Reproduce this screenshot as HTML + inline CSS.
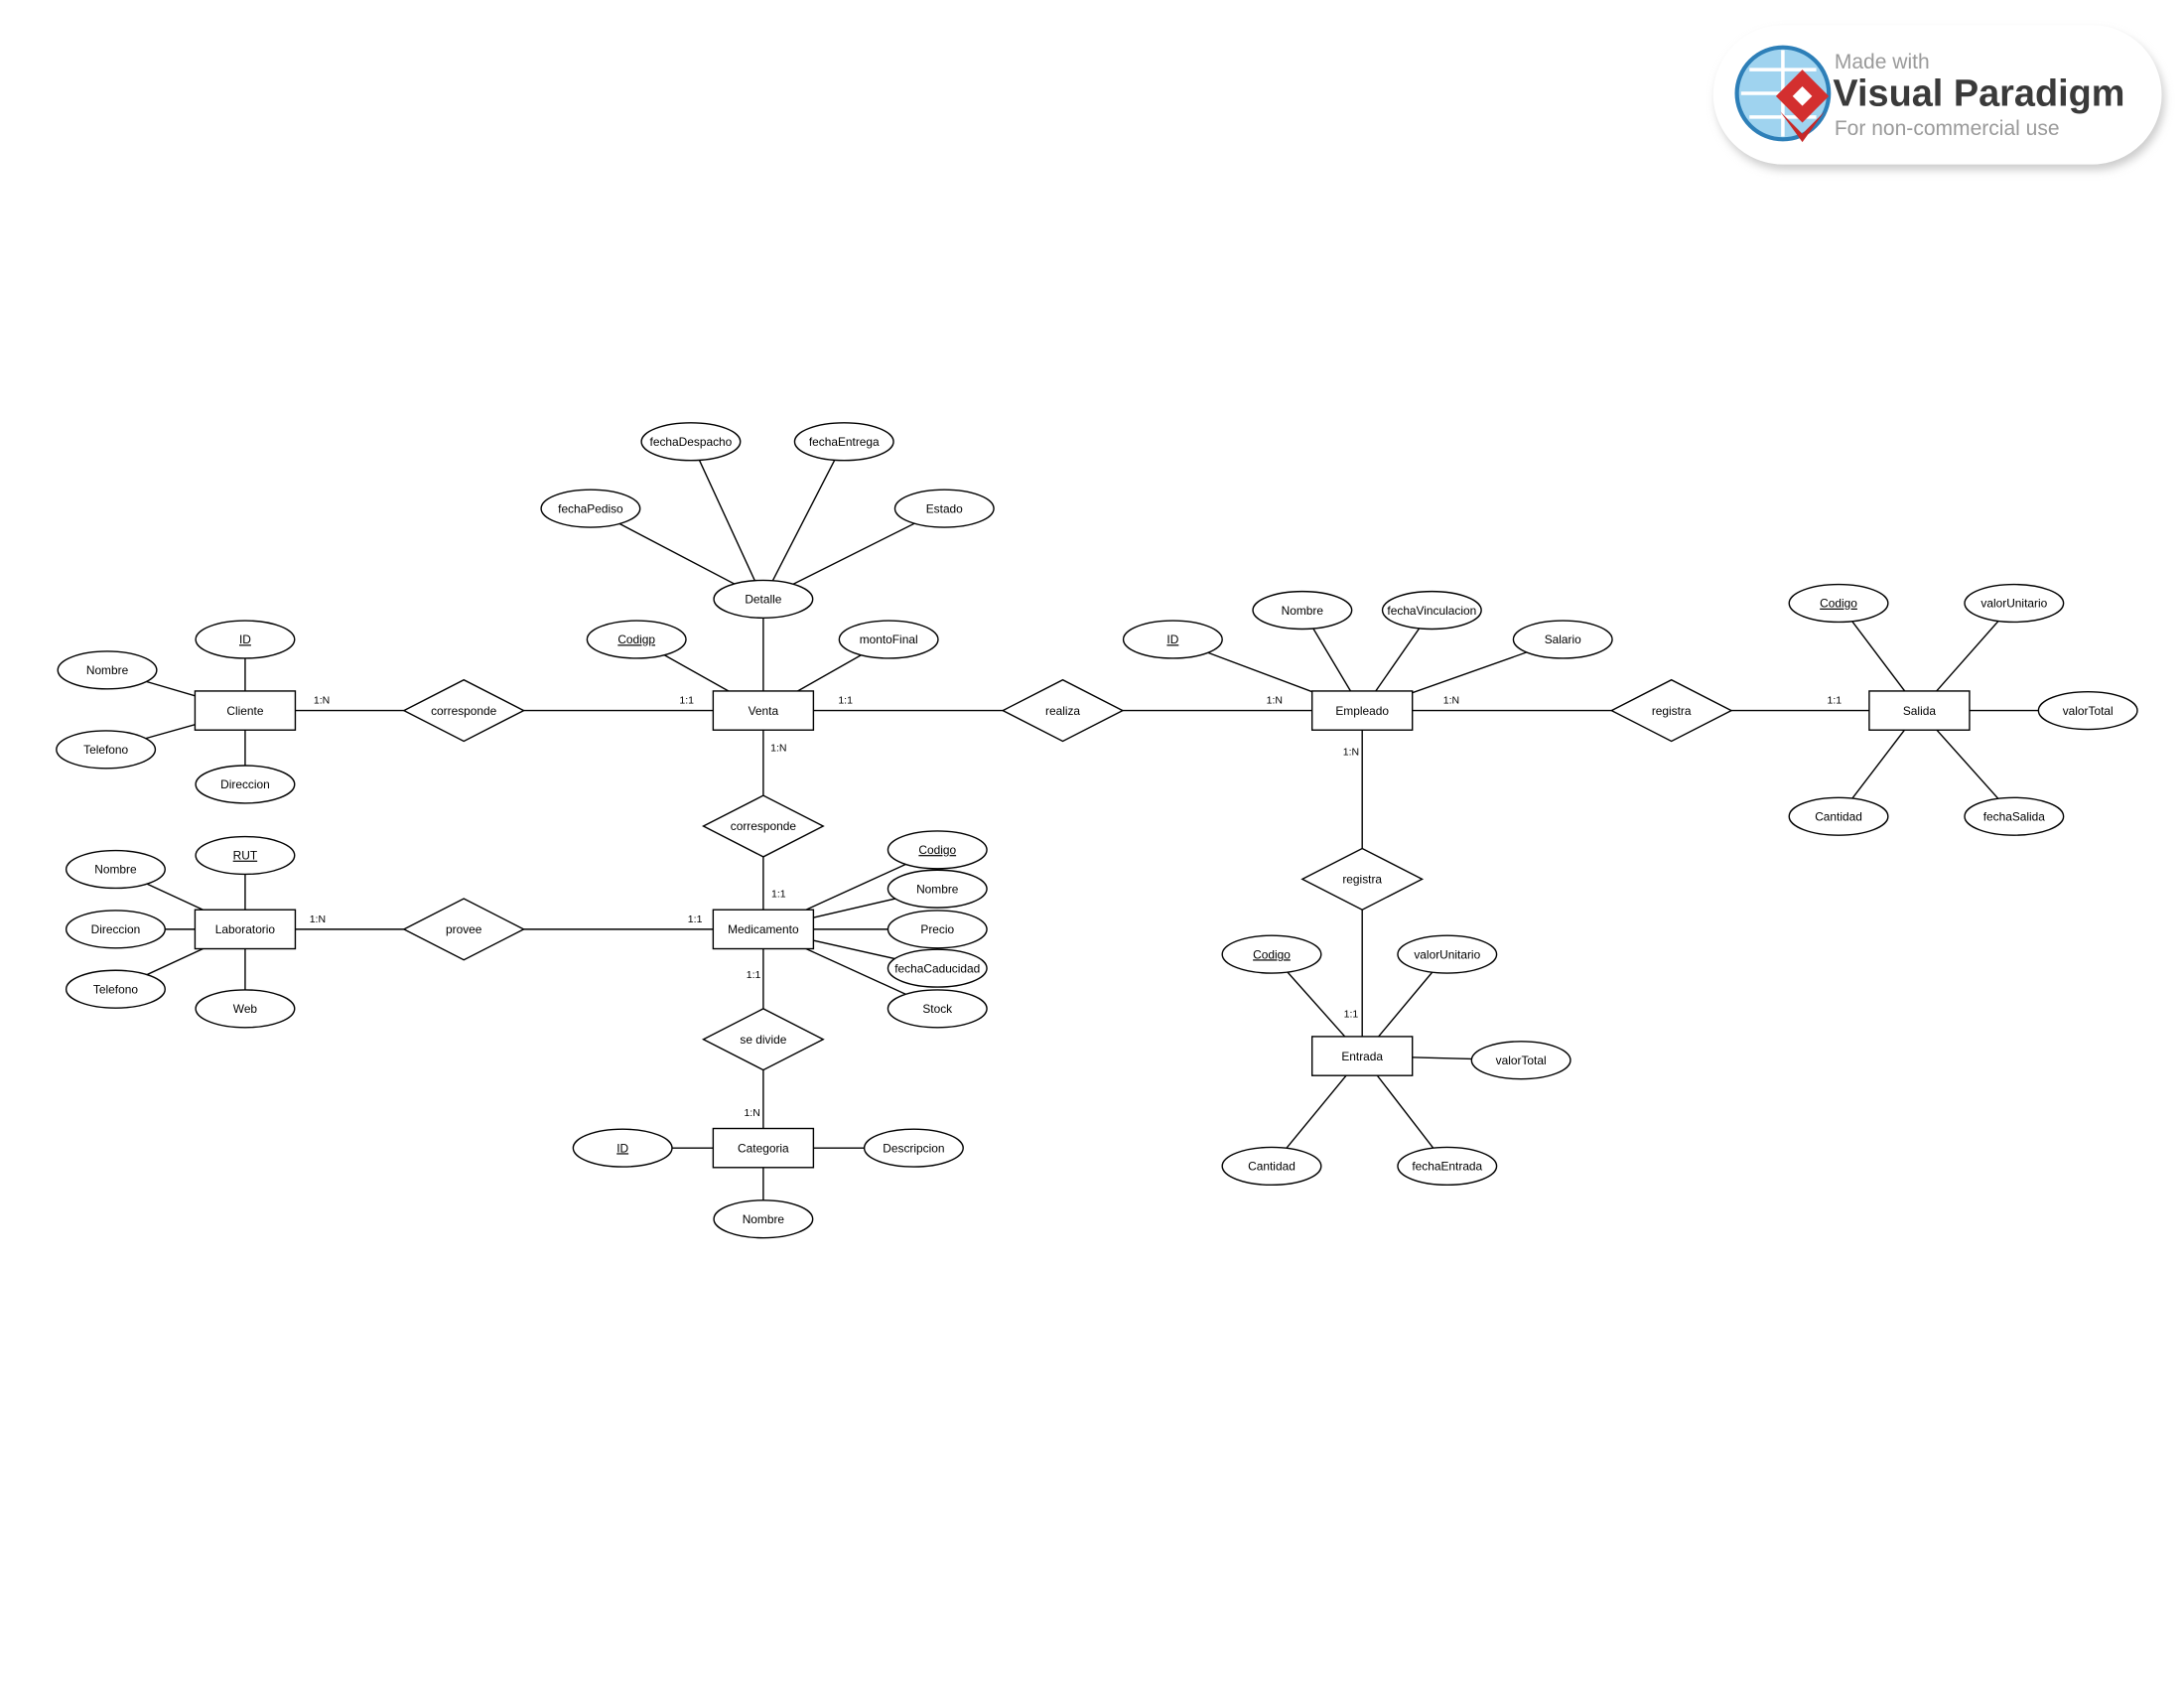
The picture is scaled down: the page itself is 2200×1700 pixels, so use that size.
<!DOCTYPE html>
<html><head><meta charset="utf-8"><style>
html,body{margin:0;padding:0;background:#fff;}
svg{display:block;}
text{font-family:"Liberation Sans",sans-serif;}
</style></head><body>
<svg id="er" width="2200" height="1700" viewBox="0 0 1568 1211.6" preserveAspectRatio="none" xmlns="http://www.w3.org/2000/svg">
<defs><filter id="sh" x="-20%" y="-30%" width="140%" height="160%"><feGaussianBlur stdDeviation="3"/></filter></defs>
<g>
<rect x="1232" y="22" width="322" height="100" rx="50" fill="#ccc" filter="url(#sh)"/>
<rect x="1230" y="18" width="322" height="100" rx="50" fill="#fff"/>
<circle cx="1280" cy="67" r="33" fill="#9fd3ef" stroke="#2d7fb8" stroke-width="3"/>
<path d="M1250 67 H1310 M1280 36 V98 M1256 50 H1304 M1256 84 H1304" stroke="#fff" stroke-width="2.5"/>
<polygon points="1294,50 1313,69 1294,88 1275,69" fill="#d32f2f"/>
<polygon points="1294,62 1301,69 1294,76 1287,69" fill="#fff"/>
<polygon points="1278,80 1294,96 1310,80 1294,102" fill="#c62828"/>
<text x="1317" y="49" font-size="15" fill="#9a9a9a">Made with</text>
<text x="1316" y="76" font-size="27" font-weight="bold" fill="#3a3a3a">Visual Paradigm</text>
<text x="1317" y="97" font-size="15" fill="#9a9a9a">For non-commercial use</text>
</g>
<g id="lines"></g><g id="shapes"></g>
</svg>
<script>
const NS='http://www.w3.org/2000/svg';
const entities=[['Cliente',176,510],['Venta',548,510],['Laboratorio',176,667],['Medicamento',548,667],['Categoria',548,824],['Empleado',978,510],['Salida',1378,510],['Entrada',978,758]];
const relations=[['corresponde',333,510,'Cliente','Venta'],['corresponde',548,593,'Venta','Medicamento'],['provee',333,667,'Laboratorio','Medicamento'],['se divide',548,746,'Medicamento','Categoria'],['realiza',763,510,'Venta','Empleado'],['registra',1200,510,'Empleado','Salida'],['registra',978,631,'Empleado','Entrada']];
const attrs=[['ID',176,459,1,'Cliente'],['Nombre',77,481,0,'Cliente'],['Telefono',76,538,0,'Cliente'],['Direccion',176,563,0,'Cliente'],
['Codigp',457,459,1,'Venta'],['montoFinal',638,459,0,'Venta'],['Detalle',548,430,0,'Venta'],
['fechaPediso',424,365,0,'Detalle'],['fechaDespacho',496,317,0,'Detalle'],['fechaEntrega',606,317,0,'Detalle'],['Estado',678,365,0,'Detalle'],
['RUT',176,614,1,'Laboratorio'],['Nombre',83,624,0,'Laboratorio'],['Direccion',83,667,0,'Laboratorio'],['Telefono',83,710,0,'Laboratorio'],['Web',176,724,0,'Laboratorio'],
['Codigo',673,610,1,'Medicamento'],['Nombre',673,638,0,'Medicamento'],['Precio',673,667,0,'Medicamento'],['fechaCaducidad',673,695,0,'Medicamento'],['Stock',673,724,0,'Medicamento'],
['ID',447,824,1,'Categoria'],['Descripcion',656,824,0,'Categoria'],['Nombre',548,875,0,'Categoria'],
['ID',842,459,1,'Empleado'],['Nombre',935,438,0,'Empleado'],['fechaVinculacion',1028,438,0,'Empleado'],['Salario',1122,459,0,'Empleado'],
['Codigo',1320,433,1,'Salida'],['valorUnitario',1446,433,0,'Salida'],['valorTotal',1499,510,0,'Salida'],['Cantidad',1320,586,0,'Salida'],['fechaSalida',1446,586,0,'Salida'],
['Codigo',913,685,1,'Entrada'],['valorUnitario',1039,685,0,'Entrada'],['valorTotal',1092,761,0,'Entrada'],['Cantidad',913,837,0,'Entrada'],['fechaEntrada',1039,837,0,'Entrada']];
const cards=[['1:N',231,502],['1:1',493,502],['1:1',607,502],['1:N',559,536],['1:1',559,641],['1:N',228,659],['1:1',499,659],['1:1',541,699],['1:N',540,798],['1:N',915,502],['1:N',1042,502],['1:N',970,539],['1:1',1317,502],['1:1',970,727]];
const pos={};
entities.forEach(e=>pos[e[0]]=[e[1],e[2]]);
pos['Detalle']=[548,430];
const L=document.getElementById('lines'),S=document.getElementById('shapes');
function mk(t,a,p){const e=document.createElementNS(NS,t);for(const k in a)e.setAttribute(k,a[k]);p.appendChild(e);return e;}
function line(a,b,name){const l=mk('line',{x1:a[0],y1:a[1],x2:b[0],y2:b[1],stroke:'#000','stroke-width':1},L);

}
function label(txt,x,y,u,p){const t=mk('text',{x:x,y:y+3,'font-size':8.5,'text-anchor':'middle',fill:'#000'},p);t.textContent=txt;if(u)t.setAttribute('text-decoration','underline');return t;}
relations.forEach(r=>{line(pos[r[3]],[r[1],r[2]],'relationship-link');line([r[1],r[2]],pos[r[4]],'relationship-link');});
attrs.forEach(a=>line(pos[a[4]],[a[1],a[2]],'attribute-link'));
entities.forEach(e=>{const g=mk('g',{},S);


mk('rect',{x:e[1]-36,y:e[2]-14,width:72,height:28,fill:'#fff',stroke:'#000','stroke-width':1},g);label(e[0],e[1],e[2],0,g);});
relations.forEach(r=>{const g=mk('g',{},S);


const x=r[1],y=r[2];mk('polygon',{points:`${x-43},${y} ${x},${y-22} ${x+43},${y} ${x},${y+22}`,fill:'#fff',stroke:'#000','stroke-width':1},g);label(r[0],x,y,0,g);});
attrs.forEach(a=>{const g=mk('g',{},S);


mk('ellipse',{cx:a[1],cy:a[2],rx:35.5,ry:13.5,fill:'#fff',stroke:'#000','stroke-width':1},g);label(a[0],a[1],a[2],a[3],g);});
cards.forEach(c=>{const t=label(c[0],c[1],c[2],0,S);t.setAttribute('font-size','7.5');

});
</script>
</body></html>
